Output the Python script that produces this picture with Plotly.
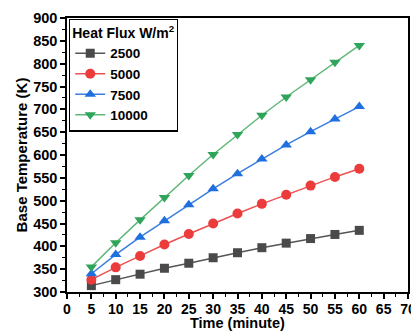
import plotly.graph_objects as go

time_min = [5, 10, 15, 20, 25, 30, 35, 40, 45, 50, 55, 60]
flux_labels = ["2500", "5000", "7500", "10000"]
temp_2500 = [314, 327, 339, 352, 363, 375, 386, 397, 407, 417, 426, 435]
temp_5000 = [327, 354, 379, 404, 427, 450, 472, 493, 513, 533, 552, 570]
temp_7500 = [340, 382, 420, 456, 491, 526, 559, 591, 622, 651, 679, 706]
temp_10000 = [355, 408, 458, 507, 555, 601, 645, 687, 727, 765, 803, 840]

series = [temp_2500, temp_5000, temp_7500, temp_10000]
marker_colors = ["#4a4a4a", "#ec3b3b", "#1f6fde", "#2ea55a"]
line_colors = ["#555555", "#ec5050", "#3a7ede", "#5fb878"]
symbols = ["square", "circle", "triangle-up", "triangle-down"]

fig = go.Figure()
for lab, ys, mc, lc, sym in zip(flux_labels, series, marker_colors, line_colors, symbols):
    fig.add_trace(go.Scatter(
        x=time_min, y=ys, name=lab, mode="lines+markers",
        line=dict(color=lc, width=1.5),
        marker=dict(symbol=sym, color=mc, size=10 if sym != "square" else 9),
    ))

font_family = "Liberation Sans, Arial, sans-serif"
fig.update_layout(
    width=411, height=331,
    margin=dict(l=67, r=3, t=18, b=39),
    paper_bgcolor="white", plot_bgcolor="white",
    font=dict(family=font_family, size=14, color="black", weight="bold"),
    showlegend=True,
    legend=dict(
        x=0.006, y=0.998, xanchor="left", yanchor="top",
        bordercolor="black", borderwidth=1.2, bgcolor="white",
        title=dict(text="<b>Heat Flux W/m<sup>2</sup></b>", font=dict(size=14, weight="bold")),
        font=dict(size=13.5, family=font_family, weight="bold"),
        itemwidth=30, tracegroupgap=0,
    ),
    xaxis=dict(
        range=[0, 70], tickmode="linear", tick0=0, dtick=5,
        showgrid=False, zeroline=False, automargin=False,
        showline=True, linecolor="black", linewidth=1.5, mirror=True,
        ticks="outside", ticklen=5, tickwidth=1.5, tickcolor="black",
        ticklabelstandoff=-2, ticklabeloverflow="allow",
        minor=dict(ticks="outside", ticklen=3, tickwidth=1, dtick=2.5, tickcolor="black"),
        tickfont=dict(size=14, family=font_family, weight="bold"),
    ),
    yaxis=dict(
        range=[300, 900], tickmode="linear", tick0=300, dtick=50,
        showgrid=False, zeroline=False, automargin=False,
        showline=True, linecolor="black", linewidth=1.5, mirror=True,
        ticks="outside", ticklen=5, tickwidth=1.5, tickcolor="black",
        minor=dict(ticks="outside", ticklen=3, tickwidth=1, dtick=25, tickcolor="black"),
        tickfont=dict(size=14.5, family=font_family, weight="bold"),
        title=dict(text="<b>Base Temperature (K)</b>", font=dict(size=15, weight="bold"), standoff=2),
    ),
    annotations=[dict(
        text="<b>Time (minute)</b>", xref="paper", yref="paper", x=0.5, y=0,
        xanchor="center", yanchor="top", yshift=-21, showarrow=False,
        font=dict(size=14.5, family=font_family, weight="bold", color="black"),
    )],
)

fig.write_html("out.html")
